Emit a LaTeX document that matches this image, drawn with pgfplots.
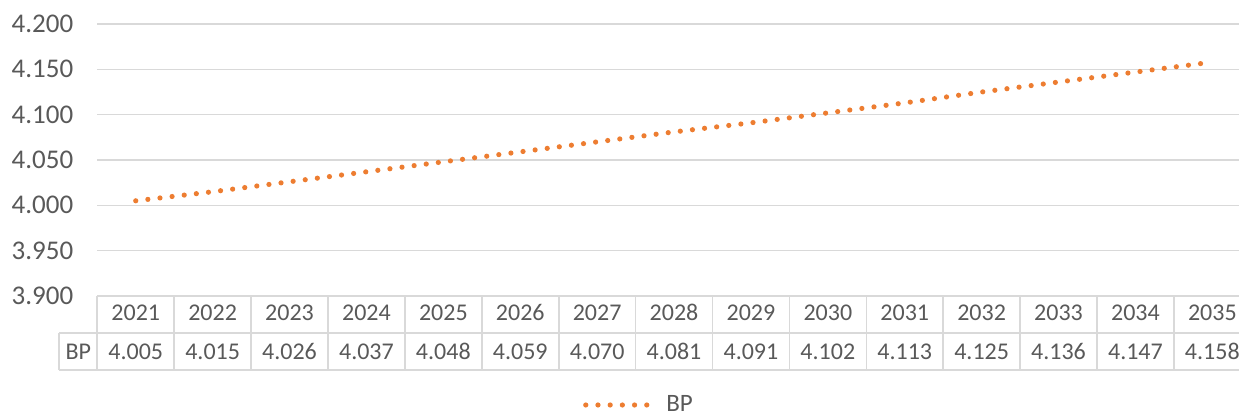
\documentclass[border=0pt]{standalone}
\usepackage{pgfplots}
\pgfplotsset{compat=1.18}
\usepackage{fontspec}
\setmainfont{Carlito}
\definecolor{txt}{HTML}{595959}
\definecolor{grd}{HTML}{D9D9D9}
\definecolor{org}{HTML}{ED7D31}
\begin{document}
\begin{tikzpicture}
\useasboundingbox (-48.65pt,-61pt) rectangle (570.85pt,148pt);
\begin{axis}[
  at={(0,0)}, anchor=south west,
  width=576.75pt, height=136pt, scale only axis,
  xmin=-0.5, xmax=14.5, ymin=3.9, ymax=4.2,
  xtick=\empty,
  ytick={3.9,3.95,...,4.21},
  yticklabel style={font=\fontsize{13.5}{16}\selectfont, text=txt, xshift=-8.5pt,
    /pgf/number format/.cd, fixed, fixed zerofill, precision=3, assume math mode=true},
  ymajorgrids, grid style={grd, line width=0.8pt},
  axis line style={draw=none},
  major tick length=0pt,
  clip=false,
  legend style={at={(0.4705,-0.4007)}, anchor=center, draw=none, fill=none,
    font=\fontsize{12.5}{15}\selectfont, text=txt},
  legend image code/.code={\draw[#1] (0pt,0pt) -- (31pt,0pt); \path (37pt,0pt);},
]
\addplot[org, line width=2.6pt, line cap=round, dash pattern=on 0pt off 6.1pt]
  coordinates {(0,4.005)(1,4.015)(2,4.026)(3,4.037)(4,4.048)(5,4.059)(6,4.070)(7,4.081)(8,4.091)(9,4.102)(10,4.113)(11,4.125)(12,4.136)(13,4.147)(14,4.158)};
\addlegendentry{BP}
\end{axis}
% data table below the axis (38.45pt per category)
\draw[grd, line width=0.8pt] (0,-18.5pt) -- (576.75pt,-18.5pt);
\draw[grd, line width=0.8pt] (-19pt,-18.5pt) -- (0,-18.5pt);
\draw[grd, line width=0.8pt] (-19pt,-37pt) -- (576.75pt,-37pt);
\draw[grd, line width=0.8pt] (-19pt,-18.5pt) -- (-19pt,-37pt);
\foreach \k in {0,...,15}{
  \draw[grd, line width=0.8pt] (\k*38.45pt,0) -- (\k*38.45pt,-37pt);
}
\node[anchor=base, font=\fontsize{12}{14}\selectfont, text=txt] at (-9.5pt,-31.5pt) {BP};
\foreach \i/\yr/\v in {0/2021/4.005,1/2022/4.015,2/2023/4.026,3/2024/4.037,4/2025/4.048,5/2026/4.059,6/2027/4.070,7/2028/4.081,8/2029/4.091,9/2030/4.102,10/2031/4.113,11/2032/4.125,12/2033/4.136,13/2034/4.147,14/2035/4.158}{
  \node[anchor=base, font=\fontsize{12}{14}\selectfont, text=txt] at (\i*38.45pt+19.225pt,-12.5pt) {\yr};
  \node[anchor=base, font=\fontsize{12}{14}\selectfont, text=txt] at (\i*38.45pt+19.225pt,-31.5pt) {\v};
}
\end{tikzpicture}
\end{document}
